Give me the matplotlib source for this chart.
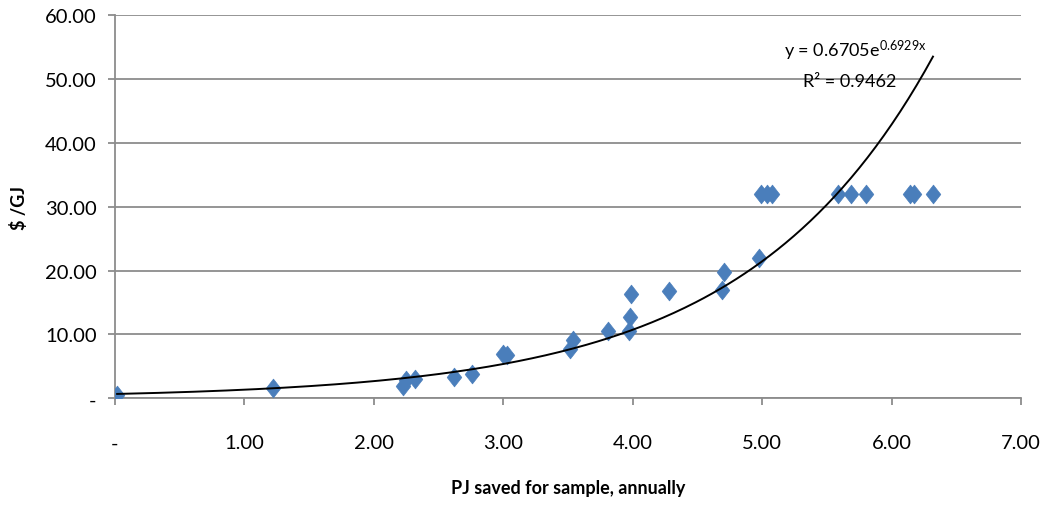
"""Price per GJ vs PJ saved, with exponential trendline."""
import numpy as np
import matplotlib
matplotlib.use("Agg")
import matplotlib.pyplot as plt
import matplotlib.ticker as ticker
from matplotlib.path import Path

plt.rcParams["font.family"] = ["Lato", "DejaVu Sans"]
plt.rcParams["mathtext.default"] = "regular"

# PJ saved (x) and $/GJ (y)
pj_saved = [0.02, 1.22, 2.23, 2.25, 2.32, 2.62, 2.76, 3.00, 3.03, 3.52, 3.54,
            3.81, 3.97, 3.98, 3.99, 4.28, 4.69, 4.71, 4.98, 4.99, 5.04, 5.08,
            5.59, 5.69, 5.80, 6.14, 6.17, 6.32]
cost_gj = [0.5, 1.6, 2.0, 2.9, 3.0, 3.3, 3.8, 6.9, 6.8, 7.7, 9.1,
           10.6, 10.6, 12.7, 16.3, 16.8, 17.0, 19.8, 21.9, 32.0, 32.0, 32.0,
           32.0, 32.0, 32.0, 32.0, 32.0, 32.0]

# Trendline y = a * exp(b x)
fit_a, fit_b = 0.6705, 0.6929
r_squared = 0.9462

# Excel-style diamond, a bit taller than wide
diamond = Path([(0, 1), (0.78, 0), (0, -1), (-0.78, 0), (0, 1)],
               [Path.MOVETO, Path.LINETO, Path.LINETO, Path.LINETO, Path.CLOSEPOLY])

fig = plt.figure(figsize=(10.47, 5.06), dpi=100)
ax = fig.add_axes([0.1094, 0.2109, 0.8658, 0.7575])

ax.plot(pj_saved, cost_gj, linestyle="none", marker=diamond, markersize=13.5,
        color="#4A7EBB", markeredgecolor="#4A7EBB", markeredgewidth=0.5, zorder=3)

xs = np.linspace(min(pj_saved), max(pj_saved), 300)
ax.plot(xs, fit_a * np.exp(fit_b * xs), color="black", linewidth=1.4, zorder=4)

ax.set_xlim(0, 7)
ax.set_ylim(0, 60)
ax.xaxis.set_major_locator(ticker.MultipleLocator(1))
ax.yaxis.set_major_locator(ticker.MultipleLocator(10))
fmt = ticker.FuncFormatter(lambda v, _: "-" if abs(v) < 1e-9 else f"{v:.2f}")
ax.xaxis.set_major_formatter(fmt)
ax.yaxis.set_major_formatter(fmt)

ax.grid(axis="y", color="#8C8C8C", linewidth=1.3)
ax.set_axisbelow(True)
for s in ("top", "right"):
    ax.spines[s].set_visible(False)
for s in ("left", "bottom"):
    ax.spines[s].set_color("#8C8C8C")
    ax.spines[s].set_linewidth(1.3)
ax.tick_params(axis="both", colors="#8C8C8C", labelcolor="black", labelsize=14.5,
               length=5, width=1.3)
ax.tick_params(axis="x", pad=21)
ax.tick_params(axis="y", pad=8)

ax.set_xlabel("PJ saved for sample, annually", fontsize=13, fontweight="bold", labelpad=20)
ax.set_ylabel("$ /GJ", fontsize=13, fontweight="bold", labelpad=12)

ax.text(5.72, 54.6, f"y = {fit_a}e$^{{{fit_b}x}}$", fontsize=13, ha="center", va="center")
ax.text(5.68, 49.6, f"R² = {r_squared}", fontsize=13, ha="center", va="center")

plt.savefig("out.png", dpi=100)
